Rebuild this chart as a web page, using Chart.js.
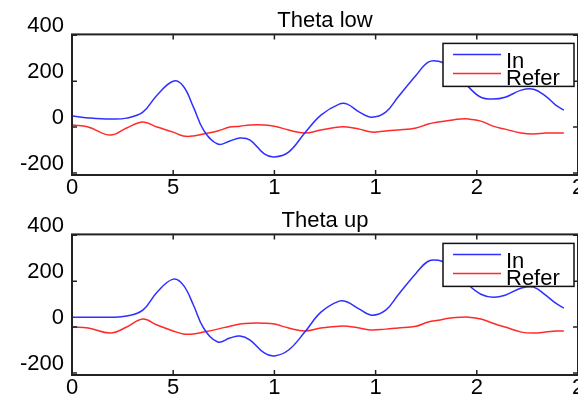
<!DOCTYPE html>
<html>
<head>
<meta charset="utf-8">
<script src="https://cdn.jsdelivr.net/npm/chart.js@4.4.1/dist/chart.umd.min.js"></script>
<style>
  body { margin: 0; background: #fff; }
  .panel { position: relative; width: 578px; height: 200px; }
</style>
</head>
<body>
<div class="panel"><canvas id="theta-low"></canvas></div>
<div class="panel"><canvas id="theta-up"></canvas></div>
<script>
// 시간축 (두 그래프 공통)
const tSec = [0, 0.08, 0.19, 0.27, 0.35, 0.42, 0.5, 0.55, 0.6, 0.65, 0.72, 0.78, 0.83, 0.88, 0.95, 1.0,
  1.07, 1.15, 1.23, 1.32, 1.36, 1.42, 1.48, 1.55, 1.61, 1.7, 1.76, 1.81, 1.87, 1.92, 1.96, 2.02,
  2.08, 2.14, 2.22, 2.28, 2.34, 2.39, 2.43];

// Theta low
const lowIn = [48, 40, 35, 39, 65, 139, 200, 178, 87, -13, -74, -61, -48, -57, -117, -130,
  -109, -26, 52, 100, 100, 65, 43, 65, 130, 226, 283, 287, 261, 217, 174, 130,
  122, 130, 161, 165, 135, 96, 74];
const lowRefer = [9, 0, -35, -4, 22, 0, -22, -39, -39, -30, -17, 0, 4, 9, 9, 4,
  -13, -26, -13, 0, 0, -9, -22, -17, -13, -4, 13, 22, 30, 35, 35, 26,
  4, -9, -26, -30, -26, -26, -26];

// Theta up
const upIn = [43, 43, 43, 48, 74, 152, 209, 183, 96, -4, -65, -48, -39, -57, -113, -126,
  -100, -22, 65, 113, 109, 78, 52, 74, 139, 235, 287, 291, 270, 226, 183, 143,
  130, 139, 170, 174, 139, 104, 83];
const upRefer = [0, -4, -26, 0, 35, 9, -17, -30, -30, -22, -9, 4, 13, 17, 17, 13,
  -4, -17, -4, 4, 4, -4, -13, -9, -4, 4, 22, 30, 39, 43, 43, 35,
  17, 0, -22, -26, -22, -17, -17];

// 눈금
const xTickValues = [0, 0.5, 1, 1.5, 2, 2.5];
const xTickLabels = ['0', '5', '1', '1', '2', '2'];
const yTickValues = [-200, 0, 200, 400];

const FONT = 'Liberation Sans, Arial, sans-serif';

// 축 상자 + 안쪽 눈금
const boxPlugin = {
  id: 'boxTicks',
  afterDraw(chart) {
    const { ctx, chartArea: a, scales } = chart;
    ctx.save();
    ctx.strokeStyle = '#222';
    ctx.lineWidth = 2;
    ctx.strokeRect(a.left, a.top, a.right - a.left, a.bottom - a.top);
    ctx.lineWidth = 1.5;
    ctx.beginPath();
    scales.x.ticks.forEach(t => {
      const px = scales.x.getPixelForValue(t.value);
      ctx.moveTo(px, a.bottom); ctx.lineTo(px, a.bottom - 5);
      ctx.moveTo(px, a.top); ctx.lineTo(px, a.top + 5);
    });
    scales.y.ticks.forEach(t => {
      const py = scales.y.getPixelForValue(t.value);
      ctx.moveTo(a.left, py); ctx.lineTo(a.left + 5, py);
      ctx.moveTo(a.right, py); ctx.lineTo(a.right - 5, py);
    });
    ctx.stroke();
    ctx.restore();
  }
};

// 오른쪽 위 범례 상자
const legendBoxPlugin = {
  id: 'legendBox',
  afterDraw(chart) {
    const { ctx, chartArea: a } = chart;
    const w = 131, h = 43;
    const x0 = a.right - 4 - w, y0 = a.top + 9;
    ctx.save();
    ctx.fillStyle = '#fff';
    ctx.fillRect(x0, y0, w, h);
    ctx.strokeStyle = '#111';
    ctx.lineWidth = 1.5;
    ctx.strokeRect(x0, y0, w, h);
    ctx.font = '22px ' + FONT;
    ctx.textBaseline = 'alphabetic';
    chart.data.datasets.forEach((ds, i) => {
      const ly = y0 + 11 + i * 19;
      ctx.strokeStyle = ds.borderColor;
      ctx.lineWidth = 1.5;
      ctx.beginPath();
      ctx.moveTo(x0 + 10, ly);
      ctx.lineTo(x0 + 58, ly);
      ctx.stroke();
      ctx.fillStyle = '#000';
      ctx.fillText(ds.label, x0 + 63, y0 + 25 + i * 17);
    });
    ctx.restore();
  }
};

function makeChart(id, title, inVals, referVals) {
  const ctx = document.getElementById(id).getContext('2d');
  return new Chart(ctx, {
    type: 'line',
    data: {
      datasets: [
        { label: 'In', data: tSec.map((t, i) => ({ x: t, y: inVals[i] })), borderColor: '#2f2fff' },
        { label: 'Refer', data: tSec.map((t, i) => ({ x: t, y: referVals[i] })), borderColor: '#ff2a2a' }
      ]
    },
    options: {
      responsive: true,
      maintainAspectRatio: false,
      animation: false,
      layout: { padding: 0 },
      elements: {
        line: { borderWidth: 1.5, tension: 0.4, fill: false },
        point: { radius: 0 }
      },
      plugins: {
        legend: { display: false },
        tooltip: { enabled: false },
        title: {
          display: true,
          text: title,
          fullSize: false,
          color: '#000',
          font: { family: FONT, size: 22, weight: 'normal' },
          padding: { top: 8, bottom: 0 }
        }
      },
      scales: {
        x: {
          type: 'linear',
          min: 0,
          max: 2.5,
          grid: { display: false, drawTicks: false },
          border: { display: false },
          afterBuildTicks: s => { s.ticks = xTickValues.map(v => ({ value: v })); },
          afterFit: s => { s.height = 25; s.paddingLeft = 0; s.paddingRight = 0; },
          ticks: {
            color: '#000',
            padding: 0,
            maxRotation: 0,
            autoSkip: false,
            font: { family: FONT, size: 22 },
            callback: (v, i) => xTickLabels[i]
          }
        },
        y: {
          min: -209,
          max: 404,
          grid: { display: false, drawTicks: false },
          border: { display: false },
          afterBuildTicks: s => { s.ticks = yTickValues.map(v => ({ value: v })); },
          afterFit: s => { s.width = 72; s.paddingTop = 0; s.paddingBottom = 0; },
          ticks: {
            color: '#000',
            padding: 8,
            labelOffset: -9,
            font: { family: FONT, size: 22 }
          }
        }
      }
    },
    plugins: [boxPlugin, legendBoxPlugin]
  });
}

makeChart('theta-low', 'Theta low', lowIn, lowRefer);
makeChart('theta-up', 'Theta up', upIn, upRefer);
</script>
</body>
</html>
